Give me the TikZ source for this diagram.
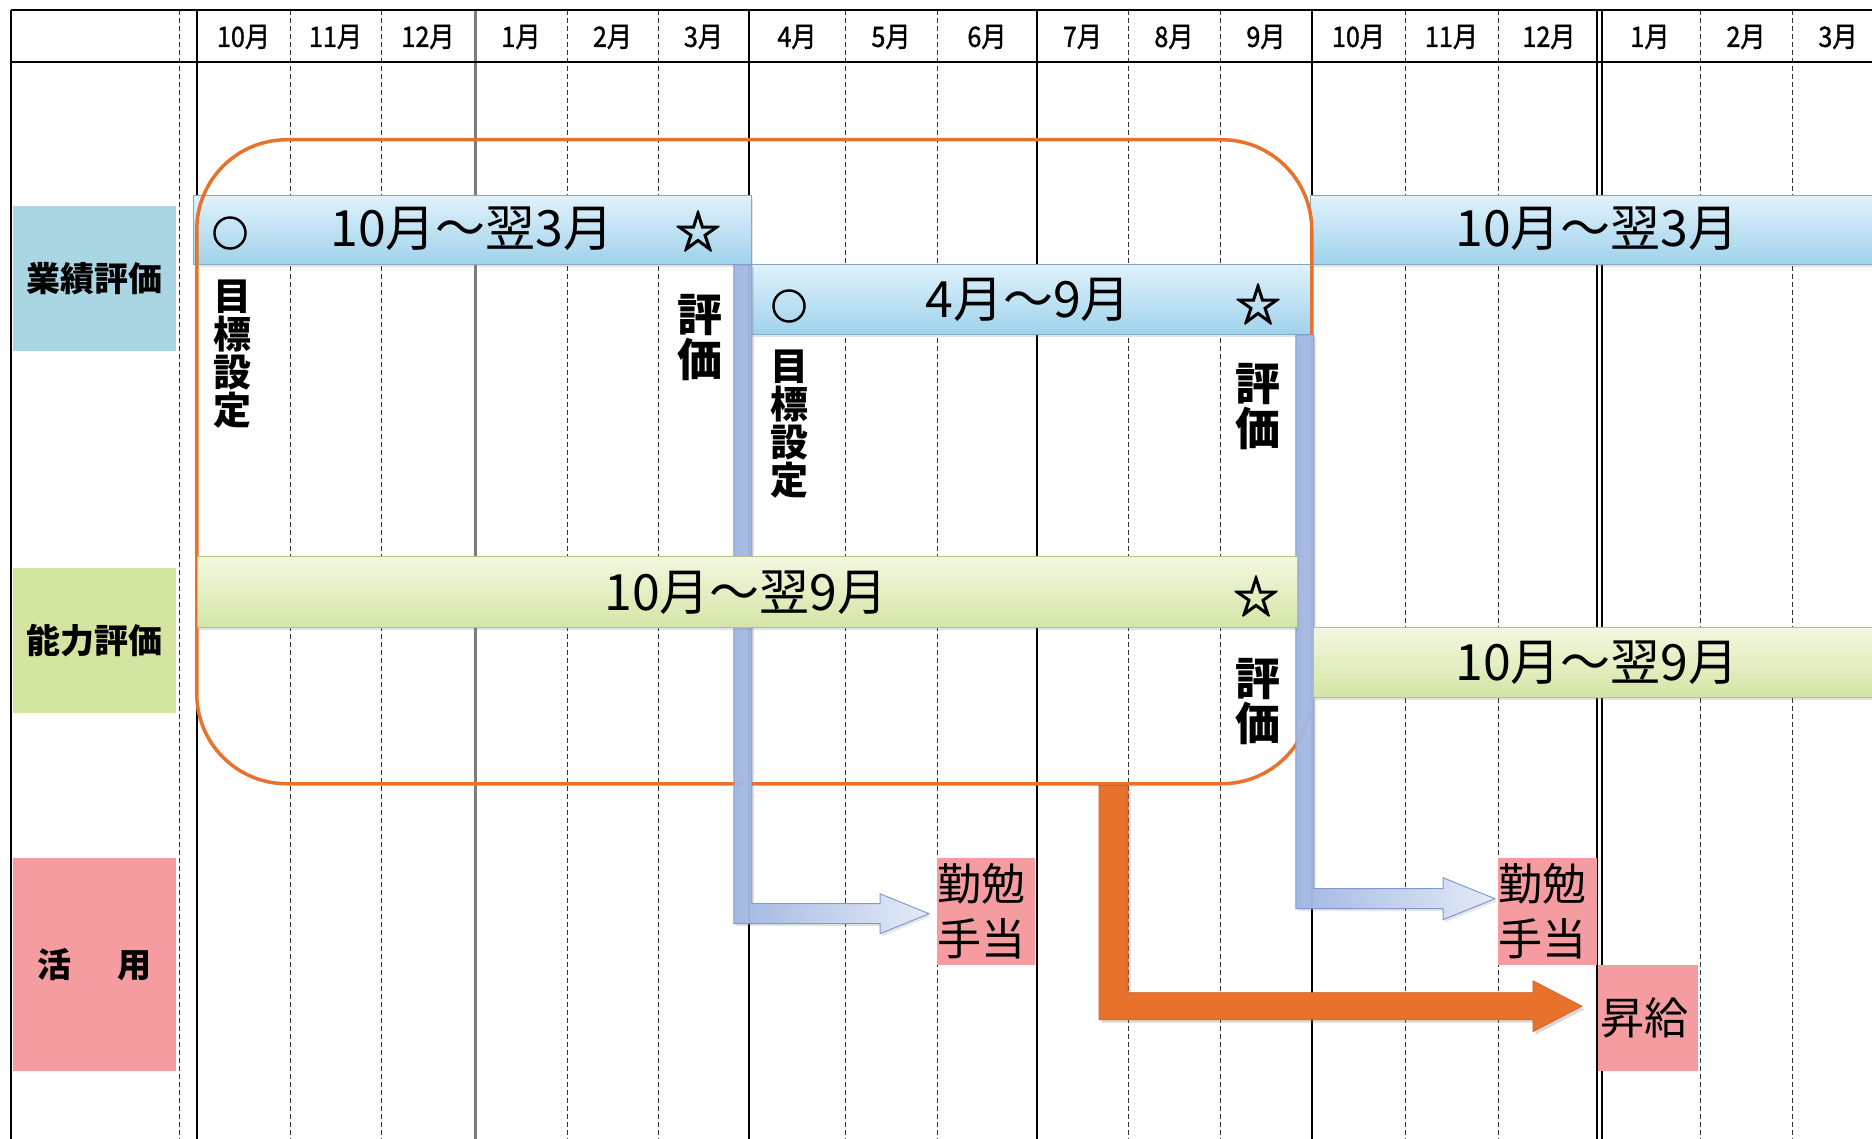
\documentclass[tikz,border=0pt]{standalone}
\usepackage{fontspec}
\usepackage{graphicx}
\setmainfont{Noto Sans CJK JP}
\newfontfamily\jpmed{Noto Sans CJK JP}[FakeBold=1.2]
\newfontfamily\jpheavy{Noto Sans CJK JP}[FakeBold=3]
\usetikzlibrary{calc,shadows}
\definecolor{catblue}{RGB}{170,214,228}
\definecolor{catgreen}{RGB}{212,229,162}
\definecolor{catpink}{RGB}{244,156,160}
\definecolor{bartop}{RGB}{224,242,251}
\definecolor{barbot}{RGB}{160,210,236}
\definecolor{barline}{RGB}{125,172,200}
\definecolor{gtop}{RGB}{243,248,224}
\definecolor{gbot}{RGB}{212,229,166}
\definecolor{gline}{RGB}{178,196,130}
\definecolor{orng}{RGB}{232,114,44}
\definecolor{arrblue}{RGB}{160,182,226}
\definecolor{arrlight}{RGB}{228,236,248}
\definecolor{arrline}{RGB}{122,150,205}
\definecolor{grayline}{RGB}{125,125,125}
\newcommand{\narrowtext}[1]{\scalebox{0.9}[1]{#1}}
\begin{document}
\begin{tikzpicture}[x=1pt,y=-1pt,
  dashv/.style={dash pattern=on 5pt off 3pt, line width=1pt, black!80},
  solidv/.style={line width=1.4pt, black},
  cat/.style={anchor=north west, inner sep=0pt, minimum width=163pt, font=\fontsize{34}{34}\selectfont\bfseries},
  bluebar/.style={draw=barline, line width=0.8pt, top color=bartop, bottom color=barbot, anchor=north west, inner sep=0pt,
     drop shadow={shadow xshift=1.5pt, shadow yshift=-2.5pt, opacity=0.22}},
  greenbar/.style={draw=gline, line width=0.8pt, top color=gtop, bottom color=gbot, anchor=north west, inner sep=0pt,
     drop shadow={shadow xshift=1.5pt, shadow yshift=-2.5pt, opacity=0.22}},
  bartext/.style={inner sep=0pt, font=\fontsize{50}{50}\selectfont},
  circtext/.style={inner sep=0pt, font=\fontsize{36}{36}\selectfont\jpheavy},
  startext/.style={inner sep=0pt, font=\fontsize{45}{45}\selectfont\jpheavy},
  vgoal/.style={inner sep=0pt, align=center, font=\fontsize{38}{38}\selectfont\bfseries},
  veval/.style={inner sep=0pt, align=center, font=\fontsize{45}{45}\selectfont\bfseries},
  monthlbl/.style={inner sep=0pt, font=\fontsize{28}{28}\selectfont\jpmed},
  pinkbox/.style={fill=catpink, anchor=north west, inner sep=0pt, align=left, font=\fontsize{44}{55}\selectfont},
  bluearrow/.style={draw=arrline, line width=1pt, left color=arrblue, right color=arrlight, opacity=0.95,
     drop shadow={shadow xshift=2pt, shadow yshift=-2.5pt, opacity=0.2}},
  orangearrow/.style={fill=orng, draw=orng!85!black, line width=0.6pt,
     drop shadow={shadow xshift=2.5pt, shadow yshift=-3pt, opacity=0.3}}
]
\useasboundingbox (0,0) rectangle (1872,1139);
\fill[white] (0,0) rectangle (1872,1139);

% ---- grid ----
\foreach \x in {179,290,381,567,658,845,937,1128,1220,1405,1498,1700,1792}
  \draw[dashv] (\x,10) -- (\x,1139);
\foreach \x in {11,197,749,1037,1312,1597,1602}
  \draw[solidv] (\x,10) -- (\x,1139);
\draw[line width=3pt, grayline] (475,10) -- (475,1139);
\draw[line width=1.5pt] (11,10) -- (1872,10);
\draw[line width=1.5pt] (11,62) -- (1872,62);

% ---- month header ----
\foreach \c/\t [count=\i] in {243.5/10月,335.5/11月,428/12月,521/1月,612.5/2月,703.5/3月,797/4月,891/5月,987/6月,1082.5/7月,1174/8月,1266/9月,1358.5/10月,1451.5/11月,1549/12月,1650/1月,1746/2月,1838/3月}
  \node[monthlbl] (mh\i) at (\c,37) {\narrowtext{\t}};

% ---- category boxes ----
\node[cat, fill=catblue, minimum height=145pt] (gyoseki) at (13,206) {業績評価};
\node[cat, fill=catgreen, minimum height=145pt] (noryoku) at (13,568) {能力評価};
\node[cat, fill=catpink, minimum height=213pt] (katsuyo) at (13,858) {活\hspace{12pt}　用};

% ---- blue bars ----
\node[bluebar, minimum width=558pt, minimum height=69pt] (b1) at (193,195) {};
\node[bluebar, minimum width=559pt, minimum height=70pt] (b2) at (751,264) {};
\node[bluebar, minimum width=600pt, minimum height=69pt] (b3) at (1310,195) {};

% ---- orange frame ----
\node[draw=orng, line width=3.5pt, rounded corners=90pt, minimum width=1115pt, minimum height=644pt,
      anchor=north west, inner sep=0pt] (frame) at (195,138) {};

% ---- pink boxes ----
\node[pinkbox, text width=98pt, minimum height=107pt] (kin1) at (937,858) {勤勉\\手当};
\node[pinkbox, text width=99pt, minimum height=107pt] (kin2) at (1498,858) {勤勉\\手当};
\node[pinkbox, text width=100pt, minimum height=106pt] (shoukyu) at (1598,965) {\hspace{2pt}昇給};

% ---- blue L arrows ----
\path[bluearrow] let \p1=(b1.south east), \p2=($(kin1.west)+(-8,2)$) in
  (\x1-18pt,\y1) -- (\x1,\y1) -- (\x1,\y2+10pt) -- (\x2-49pt,\y2+10pt) -- (\x2-49pt,\y2+20pt)
  -- (\p2) -- (\x2-49pt,\y2-20pt) -- (\x2-49pt,\y2-10pt) -- (\x1-18pt,\y2-10pt) -- cycle;
\path[bluearrow] let \p1=(b2.south east), \p2=($(kin2.west)+(-3,-13)$) in
  (\x1-15pt,\y1) -- (\x1+3pt,\y1) -- (\x1+3pt,\y2+10pt) -- (\x2-52pt,\y2+10pt) -- (\x2-52pt,\y2+21pt)
  -- (\p2) -- (\x2-52pt,\y2-21pt) -- (\x2-52pt,\y2-10pt) -- (\x1-15pt,\y2-10pt) -- cycle;

% ---- green bars ----
\node[greenbar, minimum width=1100pt, minimum height=71pt] (g1) at (197,556) {};
\node[greenbar, minimum width=600pt, minimum height=70pt] (g2) at (1313,627) {};

% ---- orange arrow ----
\path[orangearrow] let \p1=($(frame.south west)+(904,0)$), \p2=($(shoukyu.west)+(-16,-12)$) in
  (\x1,\y1) -- (\x1+29pt,\y1) -- (\x1+29pt,\y2+13.5pt) -- (\x2-49pt,\y2+13.5pt) -- (\x2-49pt,\y2+25.5pt)
  -- (\p2) -- (\x2-49pt,\y2-25.5pt) -- (\x2-49pt,\y2-13.5pt) -- (\x1,\y2-13.5pt) -- cycle;

% ---- bar texts ----
\node[circtext] (c1) at (230,233) {○};
\node[bartext] (t1) at (472,229) {10月～翌3月};
\node[startext] (s1) at (698,231) {☆};
\node[circtext] (c2) at (789,306) {○};
\node[bartext] (t2) at (1028,300) {4月～9月};
\node[startext] (s2) at (1258,304) {☆};
\node[bartext] (t3) at (1597,229) {10月～翌3月};
\node[bartext] (t4) at (746,593) {10月～翌9月};
\node[startext] (s4) at (1256,596) {☆};
\node[bartext] (t5) at (1597,663) {10月～翌9月};

% ---- vertical labels ----
\node[vgoal] (goal1) at (232,354) {目\\標\\設\\定};
\node[veval] (eval1) at (700,338) {評\\価};
\node[vgoal] (goal2) at (789,424) {目\\標\\設\\定};
\node[veval] (eval2) at (1258,407) {評\\価};
\node[veval] (eval3) at (1258,702) {評\\価};
\end{tikzpicture}
\end{document}
